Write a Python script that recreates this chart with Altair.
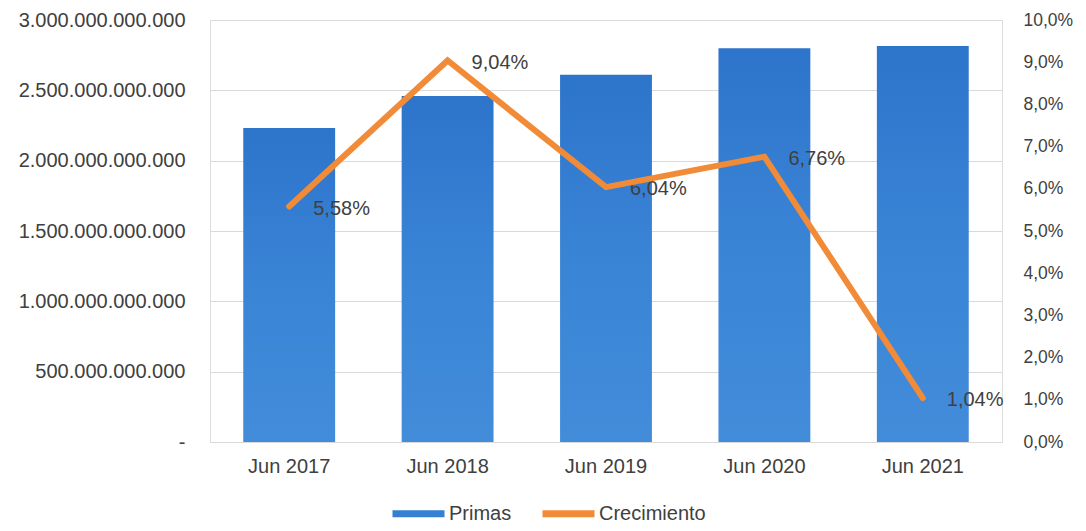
import altair as alt
import pandas as pd

periodos = ["Jun 2017", "Jun 2018", "Jun 2019", "Jun 2020", "Jun 2021"]
primas = [2.232e12, 2.460e12, 2.610e12, 2.800e12, 2.815e12]
crecimiento = [5.58, 9.04, 6.04, 6.76, 1.04]
serie_barras = "Primas"
serie_linea = "Crecimiento"
ticks_izq = [0, 5e11, 1e12, 1.5e12, 2e12, 2.5e12, 3e12]
ticks_der = [0, 1, 2, 3, 4, 5, 6, 7, 8, 9, 10]

df = pd.DataFrame({"periodo": periodos, "primas": primas, "crec": crecimiento})

FONT = "Liberation Sans"
TXT = "#404040"
AZUL = "#3580d4"
NARANJA = "#f28b38"

x = alt.X(
    "periodo:N", sort=periodos, title=None,
    scale=alt.Scale(paddingInner=0.42, paddingOuter=0.21),
    axis=alt.Axis(labelAngle=0, labelFontSize=20, labelColor=TXT, labelFont=FONT,
                  labelPadding=14, ticks=False, domain=False),
)

bars = alt.Chart(df).mark_bar(
    color=alt.Gradient(
        gradient="linear", x1=0, x2=0, y1=0, y2=1,
        stops=[alt.GradientStop(color="#2d74cb", offset=0),
               alt.GradientStop(color="#3a84d6", offset=0.5),
               alt.GradientStop(color="#428cda", offset=1)],
    )
).encode(
    x=x,
    y=alt.Y(
        "primas:Q", title=None,
        scale=alt.Scale(domain=[0, 3e12], nice=False),
        axis=alt.Axis(
            orient="left", values=ticks_izq,
            labelExpr="datum.value == 0 ? '-\u00a0\u00a0' : replace(format(datum.value, ',.0f'), regexp(',', 'g'), '.')",
            grid=True, gridColor="#d9d9d9", gridWidth=1.2, domain=False, ticks=False,
            labelPadding=25, labelFontSize=20, labelColor=TXT, labelFont=FONT,
        ),
    ),
)

labels = alt.Chart(df).transform_calculate(
    etiqueta="replace(format(datum.crec, '.2f'), '.', ',') + '%'"
).mark_text(
    align="left", baseline="middle", dx=24, dy=2, fontSize=20, font=FONT, color=TXT
).encode(
    x=x,
    y=alt.Y("crec:Q"),
    text="etiqueta:N",
)

line = alt.Chart(df).transform_calculate(
    serie=f"'{serie_linea}'"
).mark_line(strokeWidth=6, strokeCap="round", strokeJoin="miter").encode(
    x=x,
    y=alt.Y(
        "crec:Q", title=None,
        scale=alt.Scale(domain=[0, 10], nice=False),
        axis=alt.Axis(
            orient="right", values=ticks_der,
            labelExpr="replace(format(datum.value, '.1f'), '.', ',') + '%'",
            grid=False, domain=False, ticks=False,
            labelPadding=21, labelFontSize=17.5, labelColor=TXT, labelFont=FONT,
        ),
    ),
    color=alt.Color(
        "serie:N",
        scale=alt.Scale(domain=[serie_barras, serie_linea], range=[AZUL, NARANJA]),
        legend=alt.Legend(
            title=None, orient="none", direction="horizontal",
            legendX=179, legendY=464,
            symbolType="stroke", symbolSize=2704, symbolStrokeWidth=7,
            labelFontSize=20, labelFont=FONT, labelColor=TXT,
            labelOffset=1, columnPadding=16,
        ),
    ),
)

chart = alt.layer(bars, alt.layer(labels, line)).resolve_scale(
    y="independent"
).properties(
    width=792, height=422,
    autosize=alt.AutoSizeParams(type="none"),
    padding={"left": 202, "top": 12, "right": 76, "bottom": 81},
).configure_view(stroke=None).configure(background="white")

chart.save("out.html", embed_options={"renderer": "svg", "actions": False})
